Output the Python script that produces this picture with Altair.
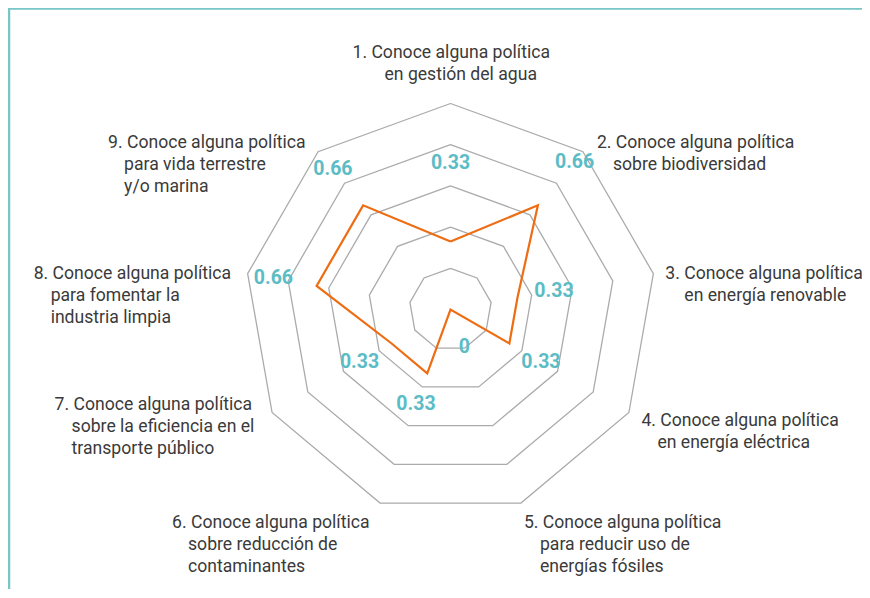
import altair as alt
import numpy as np
import pandas as pd

# ---------------- data ----------------
category_lines = [
    ["1. Conoce alguna política", "en gestión del agua"],
    ["2. Conoce alguna política", "sobre biodiversidad"],
    ["3. Conoce alguna política", "en energía renovable"],
    ["4. Conoce alguna política", "en energía eléctrica"],
    ["5. Conoce alguna política", "para reducir uso de", "energías fósiles"],
    ["6. Conoce alguna política", "sobre reducción de", "contaminantes"],
    ["7. Conoce alguna política", "sobre la eficiencia en el", "transporte público"],
    ["8. Conoce alguna política", "para fomentar la", "industria limpia"],
    ["9. Conoce alguna política", "para vida terrestre", "y/o marina"],
]
values = [0.33, 0.66, 0.33, 0.33, 0.0, 0.33, 0.33, 0.66, 0.66]
value_labels = ["0.33", "0.66", "0.33", "0.33", "0", "0.33", "0.33", "0.66", "0.66"]
grid_levels = [0.2, 0.4, 0.6, 0.8, 1.0]

# ---------------- layout / style ----------------
W, H = 854, 581          # plot area in px
CX, CY, S = 442.5, 301.5, 206.0   # centre (px in plot area) and px per unit
# radius (units) at which each value label sits
label_radius = [0.712, 0.937, 0.51, 0.507, 0.195, 0.49, 0.51, 0.873, 0.888]
# category label first-line left edge offset from outer vertex (px), and indent
cat_dx = [-98, 14, 12, 12.5, 3, -208, -217.5, -214, -210]
cat_dy = [-51, -9, 0, 8.5, 20, 20, -7.5, 0, -9]
cat_indent = [32, 16, 19, 16, 16, 16, 17, 17, 16]
LINE_H = 22

GRID_COLOR = "#ababab"
LINE_COLOR = "#ee6c12"
LABEL_COLOR = "#5bbcc5"
TEXT_COLOR = "#3a3a3a"
FRAME_COLOR = "#79c6c7"

n = len(values)
theta = 2 * np.pi * np.arange(n) / n
sx, cy_ = np.sin(theta), np.cos(theta)

xs = alt.Scale(domain=[-CX / S, (W - CX) / S], nice=False, zero=False)
ys = alt.Scale(domain=[(CY - H) / S, CY / S], nice=False, zero=False)
X = lambda f: alt.X(f, scale=xs, axis=None)
Y = lambda f: alt.Y(f, scale=ys, axis=None)

# grid rings
rows = []
for lvl in grid_levels:
    for k in range(n + 1):
        rows.append({"level": lvl, "k": k, "x": lvl * sx[k % n], "y": lvl * cy_[k % n]})
grid_df = pd.DataFrame(rows)

# data polygon
poly_df = pd.DataFrame({
    "k": list(range(n + 1)),
    "x": [values[k % n] * sx[k % n] for k in range(n + 1)],
    "y": [values[k % n] * cy_[k % n] for k in range(n + 1)],
})

# value labels
vl_df = pd.DataFrame({
    "x": [label_radius[k] * sx[k] for k in range(n)],
    "y": [label_radius[k] * cy_[k] for k in range(n)],
    "t": value_labels,
})

# category labels
cl_rows = []
for k in range(n):
    vx, vy = sx[k], cy_[k]
    for j, line in enumerate(category_lines[k]):
        dx = cat_dx[k] + (cat_indent[k] if j > 0 else 0)
        dy = cat_dy[k] + LINE_H * j
        cl_rows.append({"x": vx + dx / S, "y": vy - dy / S, "t": line})
cl_df = pd.DataFrame(cl_rows)

grid = alt.Chart(grid_df).mark_line(color=GRID_COLOR, strokeWidth=1.3).encode(
    x=X("x:Q"), y=Y("y:Q"), detail="level:N", order="k:Q")

poly = alt.Chart(poly_df).mark_line(color=LINE_COLOR, strokeWidth=2.2, strokeJoin="miter").encode(
    x=X("x:Q"), y=Y("y:Q"), order="k:Q")

vlabels = alt.Chart(vl_df).mark_text(
    font="Roboto", fontSize=19.5, fontWeight="bold", color=LABEL_COLOR,
    align="center", baseline="middle").encode(x=X("x:Q"), y=Y("y:Q"), text="t:N")

clabels = alt.Chart(cl_df).mark_text(
    font="Roboto", fontSize=17.6, color=TEXT_COLOR,
    align="left", baseline="middle").encode(x=X("x:Q"), y=Y("y:Q"), text="t:N")

frame_src = pd.DataFrame({"a": [0]})
frame_left = alt.Chart(frame_src).mark_rule(color=FRAME_COLOR, strokeWidth=2.5).encode(
    x=alt.value(1), y=alt.value(0), y2=alt.value(H))
frame_top = alt.Chart(frame_src).mark_rule(color=FRAME_COLOR, strokeWidth=2.5).encode(
    y=alt.value(0.5), x=alt.value(0), x2=alt.value(W))

chart = alt.layer(grid, poly, vlabels, clabels, frame_left, frame_top).properties(
    width=W, height=H, padding=0, autosize=alt.AutoSizeParams(type="none"),
    background="white",
).configure_view(stroke=None)

chart.save("out.html", embed_options={"renderer": "svg", "actions": False})
